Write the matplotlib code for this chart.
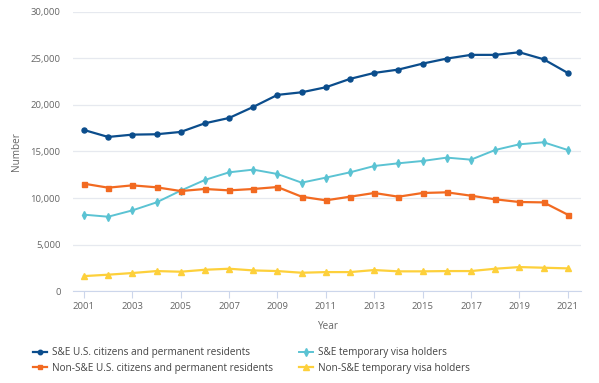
import matplotlib.pyplot as plt
from matplotlib.ticker import FuncFormatter

years = list(range(2001, 2022))
se_citizens = [17310, 16560, 16810, 16850, 17100, 18030, 18600, 19790, 21080, 21360,
               21900, 22800, 23440, 23800, 24440, 24980, 25380, 25380, 25660, 24910, 23440]
se_visa = [8210, 7990, 8670, 9530, 10790, 11940, 12760, 13050, 12580, 11650,
           12190, 12760, 13440, 13730, 13980, 14340, 14120, 15160, 15770, 15990, 15160]
nonse_citizens = [11540, 11110, 11360, 11150, 10750, 10970, 10820, 10970, 11180, 10140,
                  9750, 10140, 10540, 10140, 10540, 10610, 10250, 9860, 9570, 9530, 8210]
nonse_visa = [1610, 1760, 1940, 2150, 2080, 2290, 2400, 2220, 2150, 1970,
              2040, 2040, 2260, 2120, 2120, 2150, 2150, 2400, 2580, 2510, 2440]

plt.rcParams['font.family'] = ['Open Sans', 'DejaVu Sans']
text_col = '#666666'

fig = plt.figure(figsize=(5.99, 3.83), dpi=100)
ax = fig.add_axes([0.122, 0.240, 0.848, 0.729])

h1, = ax.plot(years, se_citizens, color='#0b4d8c', marker='o', markersize=3.6, linewidth=1.6,
              label='S&E U.S. citizens and permanent residents')
h2, = ax.plot(years, se_visa, color='#5bc3d3', marker='d', markersize=4.2, linewidth=1.4,
              label='S&E temporary visa holders')
h3, = ax.plot(years, nonse_citizens, color='#f26a21', marker='s', markersize=3.6, linewidth=1.6,
              label='Non-S&E U.S. citizens and permanent residents')
h4, = ax.plot(years, nonse_visa, color='#fdd03b', marker='^', markersize=4.2, linewidth=1.6,
              label='Non-S&E temporary visa holders')

ax.set_xlim(2000.55, 2021.55)
ax.set_ylim(0, 30000)
ax.set_xticks(range(2001, 2022, 2))
ax.set_yticks(range(0, 30001, 5000))
ax.yaxis.set_major_formatter(FuncFormatter(lambda v, p: f'{int(v):,}'))
ax.grid(axis='y', color='#e6e9ef', linewidth=0.9)
ax.set_axisbelow(True)
for s in ['top', 'right', 'left']:
    ax.spines[s].set_visible(False)
ax.spines['bottom'].set_color('#ccd6eb')
ax.tick_params(axis='both', colors=text_col, labelsize=6.8, length=0)
ax.tick_params(axis='x', length=5, color='#ccd6eb', pad=3)
ax.tick_params(axis='y', pad=9)
ax.set_xlabel('Year', color=text_col, fontsize=7.2, labelpad=7)
ax.set_ylabel('Number', color=text_col, fontsize=7.2, labelpad=6)

fig.legend(handles=[h1, h3, h2, h4], ncol=2, loc='upper left', bbox_to_anchor=(0.055, 0.093),
           frameon=False, fontsize=7.2, labelcolor='#444444', handlelength=1.4, handletextpad=0.5,
           columnspacing=2.6, labelspacing=0.45, borderaxespad=0, borderpad=0,
           markerscale=0.9)

fig.savefig('out.png', dpi=100)
